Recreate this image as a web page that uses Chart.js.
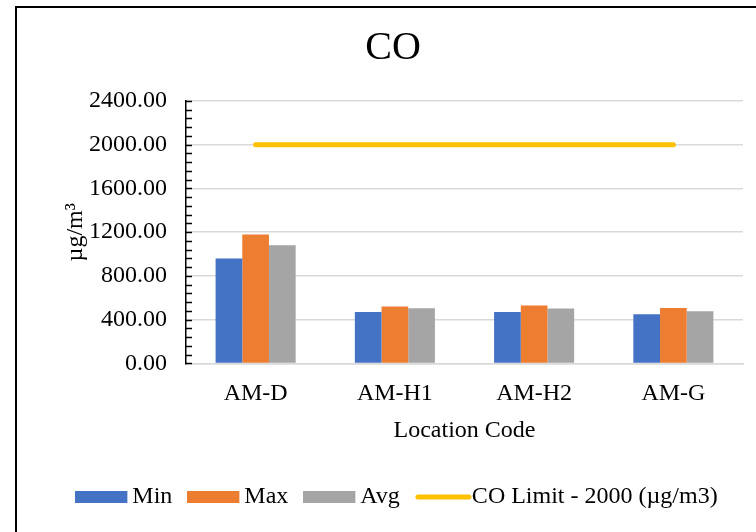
<!DOCTYPE html>
<html>
<head>
<meta charset="utf-8">
<script src="https://cdn.jsdelivr.net/npm/chart.js@4"></script>
<style>
  html, body { margin: 0; padding: 0; background: #fff; }
  #wrap { position: relative; width: 756px; height: 532px; overflow: hidden; }
  #frame { position: absolute; left: 15px; top: 6px; width: 900px; height: 700px; border: 2px solid #000; }
  #co { position: absolute; left: 0; top: 0; }
</style>
</head>
<body>
<div id="wrap">
  <div id="frame"></div>
  <canvas id="co" width="756" height="532"></canvas>
</div>
<script>
const locations = ["AM-D", "AM-H1", "AM-H2", "AM-G"];
const minValues = [960, 470, 470, 450];
const maxValues = [1180, 520, 530, 507];
const avgValues = [1080, 505, 502, 478];
const limitValues = [2000, 2000, 2000, 2000];
const yTicks = [0, 400, 800, 1200, 1600, 2000, 2400];

const serif = "'Liberation Serif', 'Times New Roman', serif";
Chart.defaults.font.family = serif;
Chart.defaults.color = "#000";

// legend swatches as little canvases; transparent right margin nudges them left of the text
const swatch = (color, line) => {
  const c = document.createElement("canvas");
  c.width = 66;
  c.height = 12;
  const g = c.getContext("2d");
  if (line) {
    g.strokeStyle = color;
    g.lineWidth = 5;
    g.lineCap = "round";
    g.beginPath();
    g.moveTo(3, 6);
    g.lineTo(54, 6);
    g.stroke();
  } else {
    g.fillStyle = color;
    g.fillRect(0, 0, 52, 12);
  }
  return c;
};

// small inward tick marks on the value axis, every 80
const minorTicks = {
  id: "minorTicks",
  afterLayout(chart) {
    // the legend sits a little right of the title in the original
    chart.legend.left += 14;
    chart.legend.right += 14;
  },
  afterDraw(chart) {
    const y = chart.scales.y;
    const ctx = chart.ctx;
    ctx.save();
    ctx.strokeStyle = "#000";
    ctx.lineWidth = 1.5;
    for (let v = y.min; v <= y.max; v += 80) {
      const py = Math.round(y.getPixelForValue(v)) + 0.5;
      ctx.beginPath();
      ctx.moveTo(y.right, py);
      ctx.lineTo(y.right + 6, py);
      ctx.stroke();
    }
    ctx.restore();
  },
};

const data = {
  labels: locations,
  datasets: [
    { label: "Min", data: minValues, backgroundColor: "#4472C4", borderWidth: 0, pointStyle: swatch("#4472C4") },
    { label: "Max", data: maxValues, backgroundColor: "#ED7D31", borderWidth: 0, pointStyle: swatch("#ED7D31") },
    { label: "Avg", data: avgValues, backgroundColor: "#A5A5A5", borderWidth: 0, pointStyle: swatch("#A5A5A5") },
    {
      type: "line",
      label: "CO Limit - 2000 (µg/m3)",
      data: limitValues,
      borderColor: "#FFC000",
      backgroundColor: "#FFC000",
      borderWidth: 5,
      borderCapStyle: "round",
      pointRadius: 0,
      pointStyle: swatch("#FFC000", true),
    },
  ],
};

const options = {
  responsive: false,
  animation: false,
  layout: { padding: { top: 24, left: 43, right: 13, bottom: 13 } },
  datasets: {
    bar: { categoryPercentage: 0.575, barPercentage: 1 },
  },
  plugins: {
    title: {
      display: true,
      text: "CO",
      font: { size: 40, weight: "normal" },
      padding: { top: 0, bottom: 29 },
    },
    legend: {
      position: "bottom",
      labels: {
        usePointStyle: true,
        boxWidth: 36,
        boxHeight: 12,
        padding: 36,
        font: { size: 24 },
      },
    },
    tooltip: { enabled: false },
  },
  scales: {
    x: {
      grid: { display: false },
      border: { color: "#D9D9D9", width: 1.5 },
      ticks: { font: { size: 24 }, padding: 8 },
      title: { display: true, text: "Location Code", font: { size: 24 }, padding: { top: 0, bottom: 4 } },
    },
    y: {
      min: 0,
      max: 2400,
      afterFit(scale) { scale.width = 143; },
      afterBuildTicks(scale) { scale.ticks = yTicks.map((v) => ({ value: v })); },
      grid: { color: "#D9D9D9", lineWidth: 1.5, drawTicks: false },
      border: { color: "#000", width: 1.5 },
      ticks: { font: { size: 24 }, padding: 19, autoSkip: false, callback: (v) => Number(v).toFixed(2) },
      title: { display: true, text: "µg/m³", font: { size: 24 }, padding: { top: 18, bottom: 0 } },
    },
  },
};

new Chart("co", { type: "bar", data, options, plugins: [minorTicks] });
</script>
</body>
</html>
